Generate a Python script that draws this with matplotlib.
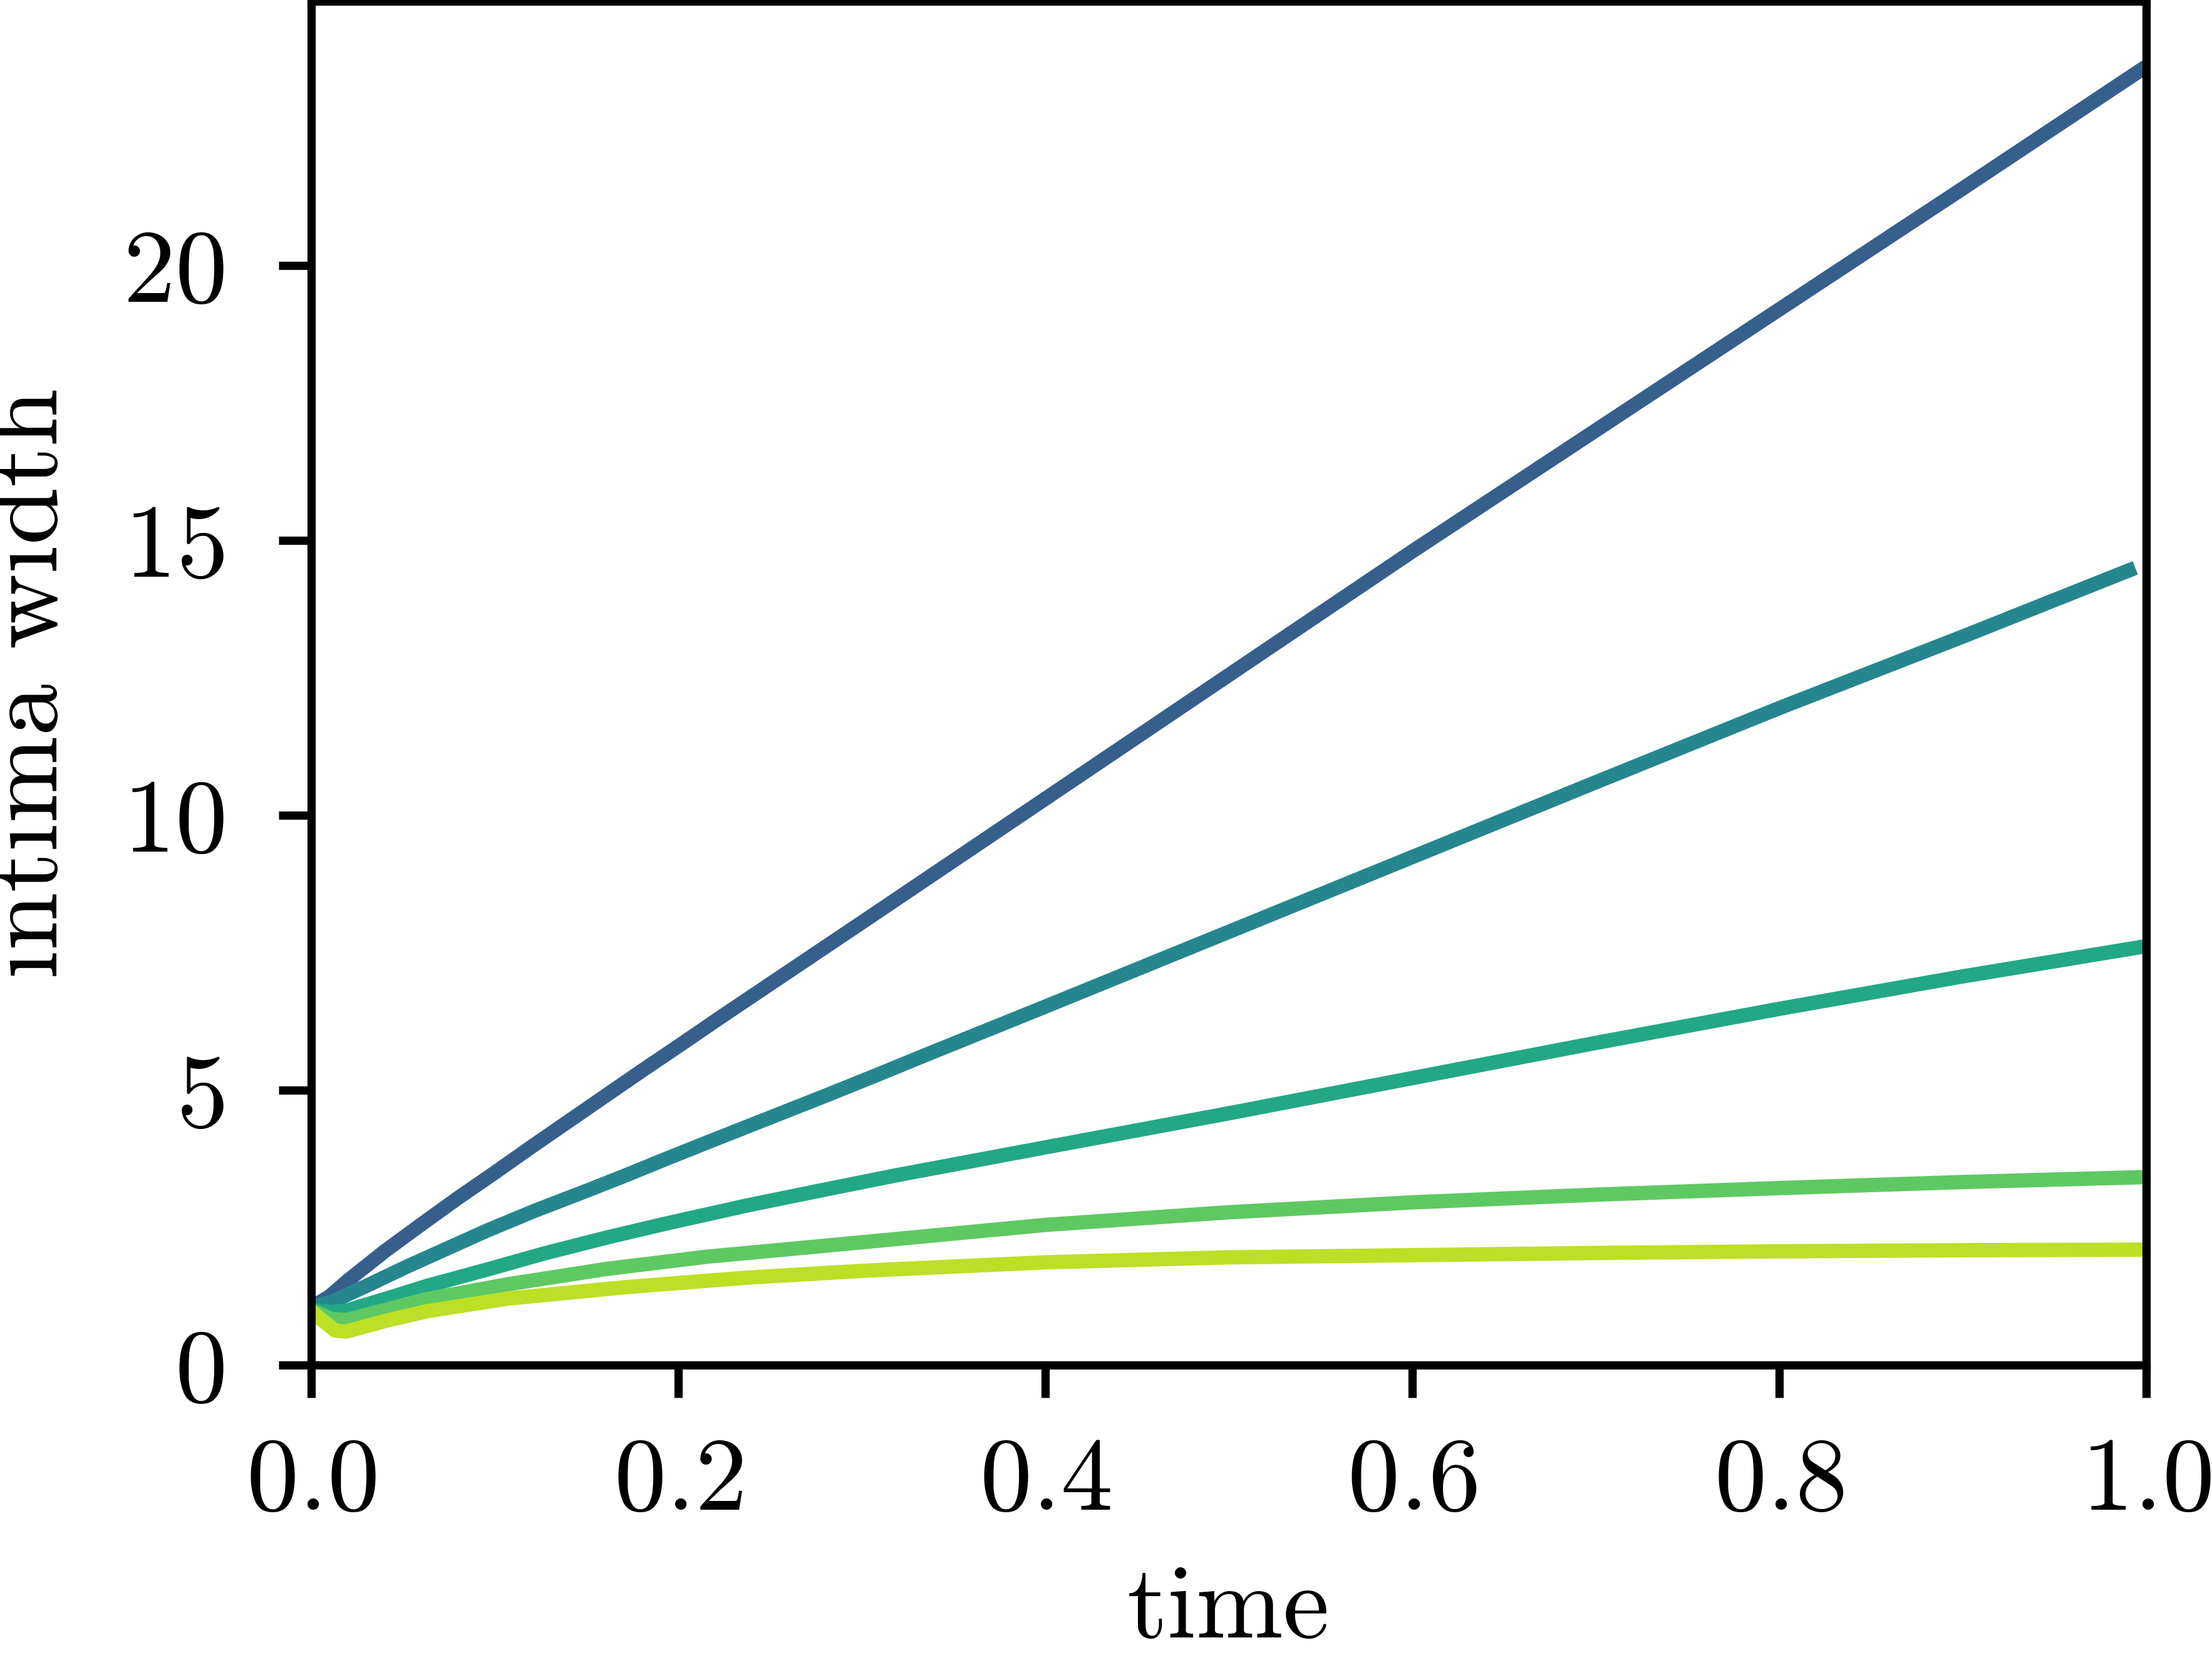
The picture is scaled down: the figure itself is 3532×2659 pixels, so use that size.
import matplotlib
matplotlib.use("Agg")
import matplotlib.pyplot as plt

plt.rcParams['font.family'] = 'serif'
plt.rcParams['font.serif'] = ['cmr10']
plt.rcParams['axes.formatter.use_mathtext'] = True
plt.rcParams['font.size'] = 24

# intima width over time (one list pair per curve)
time_a = [0, 0.01, 0.02, 0.04, 0.06, 0.08, 0.1, 0.12, 0.14, 0.16, 0.18, 0.2,
          0.225, 0.25, 0.275, 0.3, 0.4, 0.5, 0.6, 0.7, 0.8, 0.9, 1.0]
width_a = [1.05, 1.25, 1.54, 2.07, 2.56, 3.04, 3.50, 3.97, 4.43, 4.89, 5.35, 5.80,
           6.37, 6.93, 7.49, 8.05, 10.3, 12.55, 14.8, 17.0, 19.2, 21.4, 23.62]

time_b = [0, 0.011, 0.030, 0.052, 0.074, 0.096, 0.122, 0.150, 0.172, 0.194,
          0.215, 0.237, 0.259, 0.281, 0.307, 0.337, 0.4, 0.5, 0.6, 0.7, 0.8,
          0.9, 0.994]
width_b = [1.05, 1.15, 1.44, 1.79, 2.12, 2.45, 2.81, 3.17, 3.46, 3.76,
           4.04, 4.33, 4.62, 4.91, 5.26, 5.67, 6.52, 7.88, 9.24, 10.6, 11.95,
           13.25, 14.5]

time_c = [0, 0.011, 0.019, 0.041, 0.063, 0.096, 0.128, 0.161, 0.194, 0.237,
          0.281, 0.320, 0.4, 0.5, 0.6, 0.7, 0.8, 0.9, 1.0]
width_c = [1.0, 0.97, 0.99, 1.21, 1.44, 1.74, 2.04, 2.32, 2.58, 2.90,
           3.20, 3.46, 3.96, 4.58, 5.22, 5.86, 6.48, 7.07, 7.62]

time_d = [0, 0.011, 0.019, 0.041, 0.063, 0.107, 0.161, 0.215, 0.270, 0.324,
          0.4, 0.5, 0.6, 0.7, 0.8, 0.9, 1.0]
width_d = [1.0, 0.84, 0.82, 1.01, 1.20, 1.47, 1.75, 1.97, 2.14, 2.31,
           2.55, 2.78, 2.96, 3.10, 3.22, 3.33, 3.42]

time_e = [0, 0.013, 0.019, 0.041, 0.063, 0.107, 0.172, 0.237, 0.303,
          0.4, 0.5, 0.6, 0.7, 0.8, 0.9, 1.0]
width_e = [0.98, 0.63, 0.61, 0.81, 0.98, 1.21, 1.42, 1.59, 1.72,
           1.87, 1.96, 2.0, 2.04, 2.07, 2.09, 2.10]

colors = ['#365f8c', '#26868e', '#22a884', '#5ec962', '#bddf26']

fig = plt.figure(figsize=(7.064, 5.318), dpi=500)
ax = fig.add_axes([0.1407, 0.1801, 0.8296, 0.819])

series = [(time_a, width_a), (time_b, width_b), (time_c, width_c),
          (time_d, width_d), (time_e, width_e)]
for (t, w), c in zip(series, colors):
    ax.plot(t, w, color=c, lw=3.3, solid_capstyle='butt')

ax.set_xlim(0, 1)
ax.set_ylim(0, 24.8)
ax.set_xticks([0, 0.2, 0.4, 0.6, 0.8, 1.0])
ax.set_yticks([0, 5, 10, 15, 20])
ax.set_xlabel('time', labelpad=8)
ax.set_ylabel('intima width', labelpad=10.5)

for s in ax.spines.values():
    s.set_linewidth(1.9)
ax.tick_params(length=7.5, width=1.9)
ax.tick_params(axis='x', pad=9)
ax.tick_params(axis='y', pad=12.5)

fig.savefig('out.png', dpi=500)
